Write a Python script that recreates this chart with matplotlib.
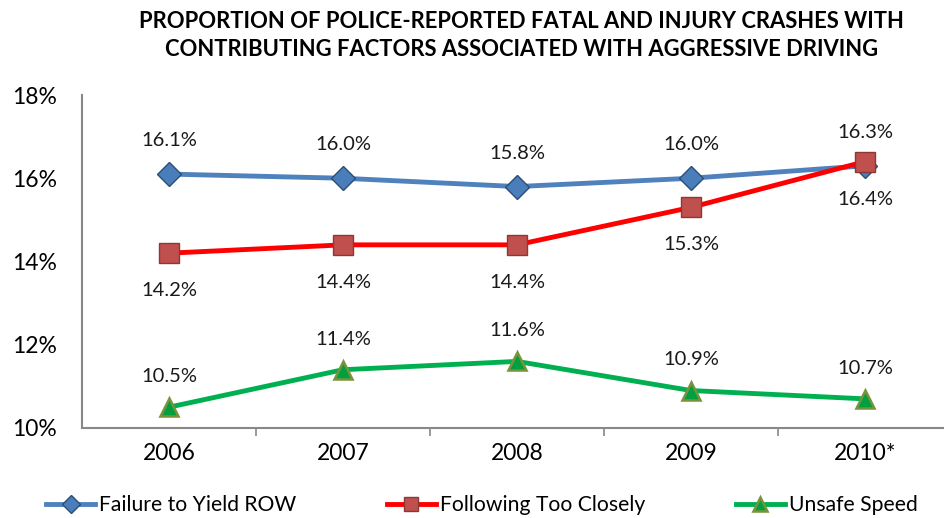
import matplotlib
matplotlib.use("Agg")
import matplotlib.pyplot as plt
import numpy as np

years = ["2006", "2007", "2008", "2009", "2010*"]
failure_to_yield = [16.1, 16.0, 15.8, 16.0, 16.3]
following_close = [14.2, 14.4, 14.4, 15.3, 16.4]
unsafe_speed = [10.5, 11.4, 11.6, 10.9, 10.7]
y_ticks = [10, 12, 14, 16, 18]

plt.rcParams['font.family'] = ['Lato', 'DejaVu Sans']

fig = plt.figure(figsize=(9.45, 5.18), dpi=100)
ax = fig.add_axes([82/945, 1-428/518, 1-82/945, (428-95)/518])

x = np.arange(len(years))
ax.plot(x, failure_to_yield, color='#4F81BD', lw=3.5, marker='D', ms=12,
        mfc='#4A7EBB', mec='#2C4D75', mew=1, label='Failure to Yield ROW', zorder=3)
ax.plot(x, following_close, color='#FF0000', lw=3.5, marker='s', ms=14,
        mfc='#C0504D', mec='#8C3836', mew=1, label='Following Too Closely', zorder=4)
ax.plot(x, unsafe_speed, color='#00B050', lw=3.5, marker='^', ms=12.5,
        mfc='#00A040', mec='#77933C', mew=1.8, label='Unsafe Speed', zorder=3)

for xi, v in zip(x, failure_to_yield):
    ax.annotate(f"{v:.1f}%", (xi, v), xytext=(0, 24), textcoords='offset points',
                ha='center', va='center', fontsize=14.5, color='#1a1a1a')
for xi, v in zip(x, following_close):
    ax.annotate(f"{v:.1f}%", (xi, v), xytext=(0, -27), textcoords='offset points',
                ha='center', va='center', fontsize=14.5, color='#1a1a1a')
for xi, v in zip(x, unsafe_speed):
    ax.annotate(f"{v:.1f}%", (xi, v), xytext=(0, 22), textcoords='offset points',
                ha='center', va='center', fontsize=14.5, color='#1a1a1a')

ax.set_xlim(-0.5, 4.46)
ax.set_ylim(10, 18)
ax.set_yticks(y_ticks)
ax.set_yticklabels([f"{t}%" for t in y_ticks], fontsize=16.5)
ax.set_xticks(x)
ax.set_xticklabels(years, fontsize=16.5)
ax.set_xticks(x[:-1] + 0.5, minor=True)
ax.tick_params(axis='x', which='major', length=0, pad=11)
ax.tick_params(axis='x', which='minor', length=6, width=1.2, color='#888888')
ax.tick_params(axis='y', length=0, pad=18)

for s in ['top', 'right']:
    ax.spines[s].set_visible(False)
for s in ['left', 'bottom']:
    ax.spines[s].set_color('#888888')
    ax.spines[s].set_linewidth(1.5)

fig.text(0.552, 1-22/518, "PROPORTION OF POLICE-REPORTED FATAL AND INJURY CRASHES WITH",
         ha='center', va='center', fontsize=15.8, fontweight='bold')
fig.text(0.552, 1-50/518, "CONTRIBUTING FACTORS ASSOCIATED WITH AGGRESSIVE DRIVING",
         ha='center', va='center', fontsize=15.8, fontweight='bold')

ax.legend(loc='center', bbox_to_anchor=(0.51, 1-505/518), bbox_transform=fig.transFigure,
          ncol=3, frameon=False, fontsize=15.2, handlelength=2.3, columnspacing=4.3,
          handletextpad=0.2, markerscale=0.75)

fig.savefig("out.png", dpi=100)
